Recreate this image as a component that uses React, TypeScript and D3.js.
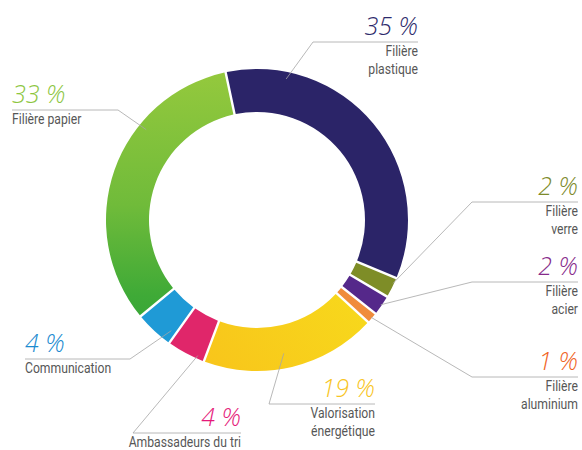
import React from 'react'
import * as d3 from 'd3'

// repartition des couts
const categories = [
  'Filière plastique',
  'Filière verre',
  'Filière acier',
  'Filière aluminium',
  'Valorisation énergétique',
  'Ambassadeurs du tri',
  'Communication',
  'Filière papier',
]
const values = [35, 2, 2, 1, 19, 4, 4, 33]
const sliceColors = ['#2b2468', '#7e8d27', '#55288a', '#f08c3c', 'url(#gradYellow)', '#e0266a', '#1f9ad6', 'url(#gradGreen)']
const textColors = ['#2d2a6b', '#7d8a2a', '#862a8a', '#f0641e', '#f8c423', '#e5197a', '#1b8bd0', '#8dc63f']
const labelLines = [
  ['Filière', 'plastique'],
  ['Filière', 'verre'],
  ['Filière', 'acier'],
  ['Filière', 'aluminium'],
  ['Valorisation', 'énergétique'],
  ['Ambassadeurs du tri'],
  ['Communication'],
  ['Filière papier'],
]

// where each label sits, and where its leader touches the ring
const labelLayout = [
  { x: 418, y: 35, align: 'end', lineFrom: 313, t: 0.19, r: 144 },
  { x: 578, y: 195, align: 'end', lineFrom: 472, t: 0.3, r: 150 },
  { x: 578, y: 275, align: 'end', lineFrom: 472, t: 0.5, r: 150 },
  { x: 578, y: 370, align: 'end', lineFrom: 472, t: 0.5, r: 150 },
  { x: 375, y: 397, align: 'end', lineFrom: 269, t: 0.53, r: 136 },
  { x: 241, y: 426, align: 'end', lineFrom: 133, t: 0.2, r: 148 },
  { x: 25, y: 352, align: 'start', lineFrom: 130, t: 0.15, r: 140 },
  { x: 12, y: 103, align: 'start', lineFrom: 118, t: 0.67, r: 143 },
]

const width = 582
const height = 450
const cx = 257
const cy = 220
const outerR = 151
const innerR = 108

export default function App() {
  const pie = d3.pie<number>()
    .sort(null)
    .startAngle(-12 * Math.PI / 180)
    .endAngle(348 * Math.PI / 180)
    .padAngle(0.013)
  const arcs = pie(values)
  const arc = d3.arc<d3.PieArcDatum<number>>().innerRadius(innerR).outerRadius(outerR)

  const squeeze = 0.84 // condensed look for the captions

  return (
    <svg width={width} height={height} style={{ position: 'absolute', left: 0, top: 0 }}>
      <defs>
        {/* gradients are in the ring's own (centred) coordinates */}
        <linearGradient id="gradGreen" gradientUnits="userSpaceOnUse" x1="0" y1={-outerR} x2="0" y2={outerR}>
          <stop offset="0" stopColor="#95c93d" />
          <stop offset="0.45" stopColor="#70bb3a" />
          <stop offset="0.75" stopColor="#3faa37" />
          <stop offset="1" stopColor="#2a9f3a" />
        </linearGradient>
        <linearGradient id="gradYellow" gradientUnits="userSpaceOnUse" x1={outerR} y1="0" x2={-60} y2={outerR}>
          <stop offset="0" stopColor="#f7e21c" />
          <stop offset="1" stopColor="#f8c41b" />
        </linearGradient>
      </defs>
      <g transform={`translate(${cx},${cy})`}>
        {arcs.map((a, i) => (
          <path key={categories[i]} d={arc(a) || ''} fill={sliceColors[i]} />
        ))}
      </g>
      {arcs.map((a, i) => {
        const L = labelLayout[i]
        const ang = a.startAngle + (a.endAngle - a.startAngle) * L.t
        const px = cx + L.r * Math.sin(ang)
        const py = cy - L.r * Math.cos(ang)
        const lineY = L.y + 7
        const hx1 = Math.min(L.x, L.lineFrom)
        const hx2 = Math.max(L.x, L.lineFrom)
        return (
          <g key={'lab' + i}>
            <line x1={px} y1={py} x2={L.lineFrom} y2={lineY} stroke="#a6a6a6" strokeWidth={0.8} />
            <line x1={hx1} x2={hx2} y1={lineY} y2={lineY} stroke="#a6a6a6" strokeWidth={0.8} />
            <text
              x={L.x}
              y={L.y}
              textAnchor={L.align}
              fill={textColors[i]}
              fontFamily="'Open Sans', 'DejaVu Sans', sans-serif"
              fontStyle="italic"
              fontWeight={300}
              fontSize={25}
            >
              {values[i]} %
            </text>
            {labelLines[i].map((t, j) => (
              <text
                key={t}
                transform={`translate(${L.x},${L.y + 21 + j * 18}) scale(${squeeze},1)`}
                textAnchor={L.align}
                fill="#575757"
                fontFamily="Roboto, 'Noto Sans', sans-serif"
                fontSize={14.5}
              >
                {t}
              </text>
            ))}
          </g>
        )
      })}
    </svg>
  )
}
